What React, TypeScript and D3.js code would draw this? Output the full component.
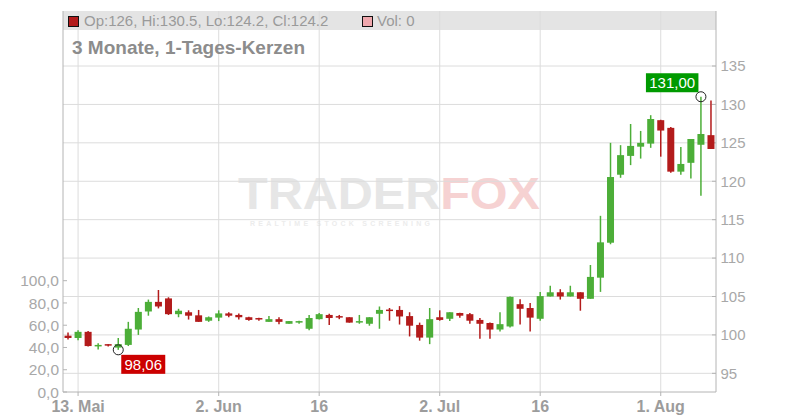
import React, { useEffect, useRef } from 'react';
import * as d3 from 'd3';

// trading days shown on the chart
const dates = [
  '2025-05-12', '2025-05-13', '2025-05-14', '2025-05-15', '2025-05-16',
  '2025-05-19', '2025-05-20', '2025-05-21', '2025-05-22', '2025-05-23',
  '2025-05-26', '2025-05-27', '2025-05-28', '2025-05-29', '2025-05-30',
  '2025-06-02', '2025-06-03', '2025-06-04', '2025-06-05', '2025-06-06',
  '2025-06-09', '2025-06-10', '2025-06-11', '2025-06-12', '2025-06-13',
  '2025-06-16', '2025-06-17', '2025-06-18', '2025-06-19', '2025-06-20',
  '2025-06-23', '2025-06-24', '2025-06-25', '2025-06-26', '2025-06-27',
  '2025-06-30', '2025-07-01', '2025-07-02', '2025-07-03', '2025-07-04',
  '2025-07-07', '2025-07-08', '2025-07-09', '2025-07-10', '2025-07-11',
  '2025-07-14', '2025-07-15', '2025-07-16', '2025-07-17', '2025-07-18',
  '2025-07-21', '2025-07-22', '2025-07-23', '2025-07-24', '2025-07-25',
  '2025-07-28', '2025-07-29', '2025-07-30', '2025-07-31', '2025-08-01',
  '2025-08-04', '2025-08-05', '2025-08-06', '2025-08-07', '2025-08-08',
];

const opens = [
  99.9, 99.6, 100.4, 98.5, 98.7, 98.35, 98.7, 100.7, 103.05, 104.3,
  104.75, 102.7, 102.95, 102.55, 101.85, 102.25, 102.8, 102.6, 102.3, 102.1,
  101.7, 102.05, 101.45, 101.6, 100.8, 102.05, 102.6, 102.35, 102.3, 101.6,
  101.45, 102.75, 103.2, 103.25, 102.45, 101.3, 99.65, 102.3, 102.1, 102.85,
  102.7, 101.95, 101.55, 100.7, 101.1, 104.0, 103.5, 102.1, 105.0, 105.55,
  105.0, 105.55, 104.7, 107.45, 112.0, 120.85, 123.3, 124.5, 124.9, 127.95,
  126.95, 121.25, 122.4, 124.75, 126.0,
];
const highs = [
  100.3, 100.6, 100.5, 98.9, 98.8, 99.6, 101.7, 103.5, 104.6, 105.85,
  104.9, 103.4, 103.2, 103.25, 102.4, 103.2, 102.95, 102.8, 102.35, 102.25,
  102.45, 102.3, 101.8, 101.85, 102.6, 102.85, 102.75, 102.6, 102.3, 102.6,
  102.3, 103.7, 103.5, 103.75, 102.95, 101.6, 103.5, 103.2, 102.95, 102.9,
  102.85, 102.2, 101.6, 102.95, 105.0, 104.65, 104.15, 105.6, 106.4, 105.95,
  106.4, 105.55, 109.1, 115.5, 125.0, 124.7, 127.45, 126.55, 128.6, 128.0,
  127.05, 124.45, 125.5, 131.0, 130.5,
];
const lows = [
  99.4, 99.3, 98.5, 98.1, 98.5, 98.06, 98.55, 100.0, 102.5, 103.45,
  102.6, 102.3, 102.0, 101.7, 101.7, 101.8, 102.3, 102.0, 101.85, 101.85,
  101.7, 101.4, 101.45, 101.45, 100.6, 102.0, 101.3, 102.05, 101.6, 101.45,
  101.2, 100.8, 101.85, 101.35, 99.8, 99.25, 98.8, 101.85, 101.8, 102.25,
  101.45, 99.5, 99.5, 100.45, 100.95, 101.35, 100.45, 101.85, 105.0, 104.6,
  105.0, 103.15, 104.7, 105.6, 111.8, 120.45, 122.1, 122.95, 124.35, 123.2,
  121.1, 120.85, 120.35, 118.1, 124.2,
];
const closes = [
  99.6, 100.4, 98.55, 98.6, 98.6, 98.8, 100.8, 103.0, 104.3, 103.7,
  102.7, 103.15, 102.5, 101.7, 102.3, 102.8, 102.5, 102.3, 101.95, 102.0,
  102.05, 101.7, 101.8, 101.8, 102.2, 102.7, 102.2, 102.25, 101.6, 101.7,
  102.3, 103.25, 103.15, 102.4, 101.2, 99.65, 102.05, 101.95, 102.95, 102.5,
  101.85, 101.45, 100.7, 101.4, 104.95, 103.4, 102.25, 105.05, 105.55, 105.0,
  105.55, 104.7, 107.55, 112.05, 120.55, 123.4, 124.6, 125.0, 128.1, 126.6,
  121.25, 122.25, 125.5, 126.15, 124.2,
];

const priceTicks = [95, 100, 105, 110, 115, 120, 125, 130, 135];
const volumeTicks = [0, 20, 40, 60, 80, 100];
const dateTicks = ['2025-05-13', '2025-06-02', '2025-06-16', '2025-07-02', '2025-07-16', '2025-08-01'];
const dateTickLabels = ['13. Mai', '2. Jun', '16', '2. Jul', '16', '1. Aug'];

const UP = '#4cae38';
const DOWN = '#b31b1b';
const FONT = '"Liberation Sans", Arial, sans-serif';

const deNum = (v: number, digits: number) => d3.format(`.${digits}f`)(v).replace('.', ',');

const App: React.FC = () => {
  const svgRef = useRef<SVGSVGElement>(null);

  useEffect(() => {
    if (!svgRef.current) return;
    const svg = d3.select(svgRef.current);
    svg.selectAll('*').remove();

    const left = 63, right = 716, top = 11, bottom = 392;

    const x = d3.scaleBand<string>().domain(dates).range([left, right]).padding(0);
    const cx = (d: string) => (x(d) || 0) + x.bandwidth() / 2;
    const y = d3.scaleLinear().domain([92.57, 142.16]).range([bottom, top]);
    const yVol = d3.scaleLinear().domain([0, 100]).range([bottom, 280.7]);

    // header band
    svg.append('rect')
      .attr('x', left).attr('y', top).attr('width', right - left).attr('height', 19)
      .attr('fill', '#e4e4e4');

    // watermark
    const wm = svg.append('g').attr('font-family', FONT);
    const wmText = wm.append('text')
      .attr('x', 238).attr('y', 209)
      .attr('font-size', 44).attr('font-weight', 700)
      .attr('textLength', 302).attr('lengthAdjust', 'spacingAndGlyphs');
    wmText.append('tspan').attr('fill', '#e6e6e6').text('TRADER');
    wmText.append('tspan').attr('fill', '#f6d2d2').text('FOX');
    wm.append('text')
      .attr('x', 250).attr('y', 226)
      .attr('font-size', 7).attr('font-weight', 700)
      .attr('fill', '#ececec')
      .attr('textLength', 180).attr('lengthAdjust', 'spacing')
      .text('REALTIME STOCK SCREENING');

    // grid
    svg.append('g').selectAll('line')
      .data(priceTicks)
      .enter().append('line')
      .attr('x1', left).attr('x2', right)
      .attr('y1', d => y(d)).attr('y2', d => y(d))
      .attr('stroke', '#dcdcdc').attr('stroke-width', 1);

    svg.append('g').selectAll('line')
      .data(dateTicks)
      .enter().append('line')
      .attr('x1', d => cx(d)).attr('x2', d => cx(d))
      .attr('y1', top).attr('y2', bottom)
      .attr('stroke', '#dcdcdc').attr('stroke-width', 1);

    // axis lines
    const axisColor = '#b4b4b4';
    svg.append('line').attr('x1', left).attr('x2', left).attr('y1', top).attr('y2', bottom)
      .attr('stroke', axisColor);
    svg.append('line').attr('x1', right).attr('x2', right).attr('y1', top).attr('y2', bottom)
      .attr('stroke', axisColor);
    svg.append('line').attr('x1', left).attr('x2', right).attr('y1', bottom).attr('y2', bottom)
      .attr('stroke', axisColor);

    // left (volume) axis
    const la = svg.append('g').attr('font-family', FONT);
    la.selectAll('line').data(volumeTicks).enter().append('line')
      .attr('x1', left).attr('x2', left + 4)
      .attr('y1', d => yVol(d)).attr('y2', d => yVol(d))
      .attr('stroke', axisColor);
    la.selectAll('text').data(volumeTicks).enter().append('text')
      .attr('x', 59).attr('y', d => yVol(d)).attr('dy', '0.36em')
      .attr('text-anchor', 'end').attr('font-size', 15.5).attr('fill', '#a8a8a8')
      .text(d => deNum(d, 1));

    // right (price) axis
    const ra = svg.append('g').attr('font-family', FONT);
    ra.selectAll('line').data(priceTicks).enter().append('line')
      .attr('x1', right - 4).attr('x2', right)
      .attr('y1', d => y(d)).attr('y2', d => y(d))
      .attr('stroke', axisColor);
    ra.selectAll('text').data(priceTicks).enter().append('text')
      .attr('x', 720.5).attr('y', d => y(d)).attr('dy', '0.36em')
      .attr('font-size', 15).attr('fill', '#a8a8a8')
      .text(d => String(d));

    // bottom axis
    const ba = svg.append('g').attr('font-family', FONT);
    ba.selectAll('line').data(dateTicks).enter().append('line')
      .attr('x1', d => cx(d)).attr('x2', d => cx(d))
      .attr('y1', bottom).attr('y2', bottom + 4)
      .attr('stroke', axisColor);
    ba.selectAll('text').data(dateTicks).enter().append('text')
      .attr('x', d => cx(d)).attr('y', 411.5)
      .attr('text-anchor', 'middle').attr('font-size', 16).attr('font-weight', 700)
      .attr('fill', '#9c9c9c')
      .text((d, i) => dateTickLabels[i]);

    // candles
    const bodyW = 7;
    const candles = svg.append('g');
    dates.forEach((d, i) => {
      const o = opens[i], c = closes[i];
      const color = c >= o ? UP : DOWN;
      const xc = cx(d);
      candles.append('line')
        .attr('x1', xc).attr('x2', xc)
        .attr('y1', y(highs[i])).attr('y2', y(lows[i]))
        .attr('stroke', color).attr('stroke-width', 1.5);
      const yTop = y(Math.max(o, c));
      const h = Math.max(1.5, y(Math.min(o, c)) - yTop);
      candles.append('rect')
        .attr('x', xc - bodyW / 2).attr('y', h === 1.5 ? yTop - 0.75 : yTop)
        .attr('width', bodyW).attr('height', h)
        .attr('fill', color);
    });

    // min / max annotations
    const lowIdx = d3.minIndex(lows);
    const highIdx = d3.maxIndex(highs);
    const lx = cx(dates[lowIdx]), ly = y(lows[lowIdx]);
    const hx = cx(dates[highIdx]), hy = y(highs[highIdx]);

    const ann = svg.append('g').attr('font-family', FONT);
    ann.append('circle').attr('cx', lx).attr('cy', ly).attr('r', 5)
      .attr('fill', 'none').attr('stroke', '#222').attr('stroke-width', 1);
    ann.append('rect').attr('x', lx + 3).attr('y', ly + 5).attr('width', 44).attr('height', 19)
      .attr('fill', '#cc0000');
    ann.append('text').attr('x', lx + 25).attr('y', ly + 20)
      .attr('text-anchor', 'middle').attr('font-size', 15).attr('fill', '#fff')
      .text(deNum(lows[lowIdx], 2));

    ann.append('circle').attr('cx', hx).attr('cy', hy).attr('r', 5)
      .attr('fill', 'none').attr('stroke', '#222').attr('stroke-width', 1);
    ann.append('rect').attr('x', hx - 55).attr('y', hy - 23.5).attr('width', 52.5).attr('height', 19)
      .attr('fill', '#009a00');
    ann.append('text').attr('x', hx - 28.75).attr('y', hy - 8.5)
      .attr('text-anchor', 'middle').attr('font-size', 15).attr('fill', '#fff')
      .text(deNum(highs[highIdx], 2));

    // header texts
    const last = dates.length - 1;
    const hd = svg.append('g').attr('font-family', FONT);
    hd.append('rect').attr('x', 68.5).attr('y', 16.5).attr('width', 10).attr('height', 10)
      .attr('fill', closes[last] >= opens[last] ? UP : DOWN).attr('stroke', '#111');
    hd.append('text').attr('x', 84).attr('y', 26).attr('font-size', 15).attr('fill', '#9a9a9a')
      .text(`Op:${opens[last]}, Hi:${highs[last]}, Lo:${lows[last]}, Cl:${closes[last]}`);
    hd.append('rect').attr('x', 362.5).attr('y', 16.5).attr('width', 10).attr('height', 10)
      .attr('fill', '#f0a8ae').attr('stroke', '#111');
    hd.append('text').attr('x', 377).attr('y', 26).attr('font-size', 15).attr('fill', '#9a9a9a')
      .text('Vol: 0');
    hd.append('text').attr('x', 72).attr('y', 54.3).attr('font-size', 19).attr('font-weight', 700)
      .attr('fill', '#8c8c8c')
      .text('3 Monate, 1-Tages-Kerzen');
  }, []);

  return (
    <svg
      ref={svgRef}
      width={800}
      height={420}
      style={{ position: 'absolute', left: 0, top: 0, background: '#fff' }}
    ></svg>
  );
};

export default App;
